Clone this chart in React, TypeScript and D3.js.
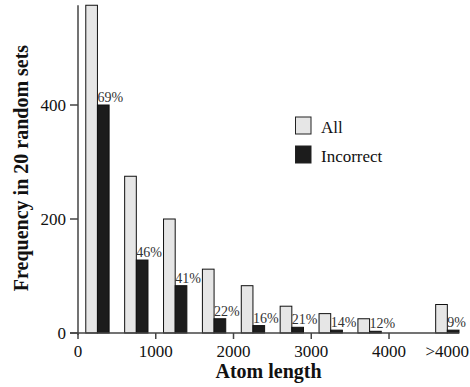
import * as d3 from 'd3'
import { useEffect, useRef } from 'react';

// bin centres (atom length), the last one stands for ">4000"
const centers = [250, 750, 1250, 1750, 2250, 2750, 3250, 3750, 4750];
const allCounts = [575, 275, 200, 112, 83, 47, 34, 25, 50];
const incorrectCounts = [400, 128, 83, 25, 13, 10, 5, 3, 5];
const pctLabels = ['69%', '46%', '41%', '22%', '16%', '21%', '14%', '12%', '9%'];
const xTicks = [0, 1000, 2000, 3000, 4000];
const xTickLabels = ['0', '1000', '2000', '3000', '4000'];
const yTicks = [0, 200, 400];

function drawChart(svgEl: SVGSVGElement) {
    const svg = d3.select(svgEl);
    svg.selectAll('*').remove();
    const serif = '"Liberation Serif", "Times New Roman", serif';

    const x = d3.scaleLinear().domain([0, 4900]).range([78, 459]);
    const y = d3.scaleLinear().domain([0, 400]).range([333, 105]);
    const half = 150;  // bar width in data units

    const g = svg.append('g');

    // bars
    g.selectAll('rect.all').data(centers).enter().append('rect')
        .attr('x', (d) => x(d - half)).attr('width', (d) => x(d) - x(d - half))
        .attr('y', (d, i) => y(allCounts[i])).attr('height', (d, i) => y(0) - y(allCounts[i]))
        .attr('fill', '#e6e6e6').attr('stroke', '#111').attr('stroke-width', 1);
    g.selectAll('rect.inc').data(centers).enter().append('rect')
        .attr('x', (d) => x(d)).attr('width', (d) => x(d + half) - x(d))
        .attr('y', (d, i) => y(incorrectCounts[i])).attr('height', (d, i) => y(0) - y(incorrectCounts[i]))
        .attr('fill', '#1c1c1c').attr('stroke', '#111').attr('stroke-width', 1);

    // percentage labels
    g.selectAll('text.pct').data(centers).enter().append('text')
        .attr('x', (d) => x(d)).attr('y', (d, i) => y(incorrectCounts[i]) - 3)
        .attr('font-family', serif).attr('font-size', 14).attr('fill', '#333')
        .text((d, i) => pctLabels[i]);

    // axes
    const axisColor = '#444';
    g.append('line').attr('x1', x(0)).attr('x2', x(0)).attr('y1', y(575)).attr('y2', y(0) + 2)
        .attr('stroke', axisColor).attr('stroke-width', 1.5);
    g.append('line').attr('x1', x(0) - 8).attr('x2', x(4900)).attr('y1', y(0)).attr('y2', y(0))
        .attr('stroke', axisColor).attr('stroke-width', 1.5);

    yTicks.forEach((t) => {
        g.append('line').attr('x1', x(0) - 8).attr('x2', x(0)).attr('y1', y(t)).attr('y2', y(t))
            .attr('stroke', axisColor).attr('stroke-width', 1.5);
        g.append('text').attr('x', x(0) - 12).attr('y', y(t) + 6).attr('text-anchor', 'end')
            .attr('font-family', serif).attr('font-size', 17).attr('fill', '#111').text(t);
    });
    xTicks.forEach((t, i) => {
        g.append('line').attr('x1', x(t)).attr('x2', x(t)).attr('y1', y(0)).attr('y2', y(0) + 6)
            .attr('stroke', axisColor).attr('stroke-width', 1.5);
        g.append('text').attr('x', x(t)).attr('y', y(0) + 24).attr('text-anchor', 'middle')
            .attr('font-family', serif).attr('font-size', 17).attr('fill', '#111').text(xTickLabels[i]);
    });
    g.append('text').attr('x', x(4750)).attr('y', y(0) + 24).attr('text-anchor', 'middle')
        .attr('font-family', serif).attr('font-size', 17).attr('fill', '#111').text('>4000');

    // titles
    g.append('text').attr('x', (x(0) + x(4900)) / 2).attr('y', 378).attr('text-anchor', 'middle')
        .attr('font-family', serif).attr('font-size', 20).attr('font-weight', 'bold').attr('fill', '#111')
        .text('Atom length');
    g.append('text').attr('transform', 'translate(28,168) rotate(-90)').attr('text-anchor', 'middle')
        .attr('font-family', serif).attr('font-size', 20).attr('font-weight', 'bold').attr('fill', '#111')
        .text('Frequency in 20 random sets');

    // legend
    const legend = [{ label: 'All', fill: '#e6e6e6' }, { label: 'Incorrect', fill: '#1c1c1c' }];
    legend.forEach((l, i) => {
        g.append('rect').attr('x', 295.5).attr('y', 117 + i * 29).attr('width', 15.5).attr('height', 17)
            .attr('fill', l.fill).attr('stroke', '#222').attr('stroke-width', 1);
        g.append('text').attr('x', 321).attr('y', 133 + i * 29)
            .attr('font-family', serif).attr('font-size', 17).attr('fill', '#111').text(l.label);
    });
}

function App() {
    const ref = useRef<SVGSVGElement>(null);
    useEffect(() => {
        if (ref.current) drawChart(ref.current);
    });

    return (
        <svg ref={ref} width="470" height="387"
            style={{ position: 'absolute', left: 0, top: 0, background: '#fff' }}>
        </svg>
    );
}

export default App;
